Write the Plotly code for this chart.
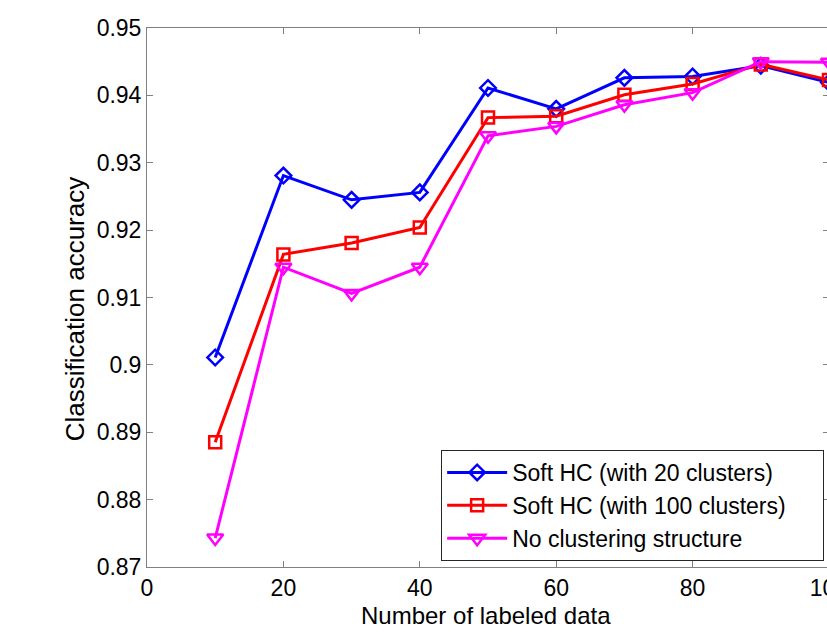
import plotly.graph_objects as go

x_labeled = [10, 20, 30, 40, 50, 60, 70, 80, 90, 100]
soft_hc_20 = [0.9011, 0.9281, 0.9245, 0.9256, 0.9411, 0.9380, 0.9426, 0.9428, 0.9444, 0.9419]
soft_hc_100 = [0.8885, 0.9164, 0.9181, 0.9204, 0.9367, 0.9369, 0.9401, 0.9417, 0.9446, 0.9423]
no_cluster = [0.8743, 0.9145, 0.9106, 0.9145, 0.9340, 0.9354, 0.9386, 0.9404, 0.9450, 0.9449]

series_names = ["Soft HC (with 20 clusters)", "Soft HC (with 100 clusters)\u00a0\u00a0\u00a0\u00a0\u00a0", "No clustering structure"]
series_colors = ["#0000FF", "#FF0000", "#FF00FF"]
series_symbols = ["diamond-open", "square-open", "triangle-down-open"]
series_sizes = [12, 12, 14]

x_ticks = [0, 20, 40, 60, 80, 100]
y_ticks = [0.87, 0.88, 0.89, 0.9, 0.91, 0.92, 0.93, 0.94, 0.95]
y_tick_text = ["0.87", "0.88", "0.89", "0.9", "0.91", "0.92", "0.93", "0.94", "0.95"]

W, H = 860, 636
L, R, T, B = 147, 29, 28, 69
pw, ph = W - L - R, H - T - B

def px(xp):
    return (xp - L) / pw

def py(yp):
    return (H - B - yp) / ph

fig = go.Figure()
for vals, name, col, sym, sz in zip([soft_hc_20, soft_hc_100, no_cluster], series_names,
                                    series_colors, series_symbols, series_sizes):
    fig.add_trace(go.Scatter(
        x=x_labeled, y=vals, name=name, mode="lines+markers",
        line=dict(color=col, width=3),
        marker=dict(symbol=sym, size=sz, color=col, line=dict(color=col, width=2.5)),
        cliponaxis=False,
    ))

axis_common = dict(
    showline=True, linecolor="#808080", linewidth=1, mirror="ticks",
    ticks="inside", ticklen=6, tickcolor="#808080", tickwidth=1,
    showgrid=False, zeroline=False,
    tickfont=dict(family="Liberation Sans, Arial", size=23, color="black"),
)

fig.update_layout(
    width=W, height=H,
    margin=dict(l=L, r=R, t=T, b=B),
    paper_bgcolor="white", plot_bgcolor="white",
    xaxis=dict(range=[0, 100], tickvals=x_ticks, **axis_common),
    yaxis=dict(range=[0.87, 0.95], tickvals=y_ticks, ticktext=y_tick_text, **axis_common),
    showlegend=True,
    legend=dict(
        x=px(442), y=py(561), xanchor="left", yanchor="bottom",
        bgcolor="white", bordercolor="#262626", borderwidth=1,
        font=dict(family="Liberation Sans, Arial", size=23, color="black"),
        itemwidth=60,
    ),
    annotations=[
        dict(text="Number of labeled data", xref="paper", yref="paper",
             x=px(487), y=py(615), xanchor="center", yanchor="middle", showarrow=False,
             font=dict(family="Liberation Sans, Arial", size=24, color="black")),
        dict(text="Classification accuracy", xref="paper", yref="paper",
             x=px(75), y=py(309), xanchor="center", yanchor="middle", showarrow=False,
             textangle=-90,
             font=dict(family="Liberation Sans, Arial", size=26, color="black")),
    ],
)

post = ("document.body.style.margin='0';document.body.style.overflow='hidden';"
        "document.documentElement.style.overflow='hidden';")
fig.write_html("out.html", post_script=post, config={"displayModeBar": False})
